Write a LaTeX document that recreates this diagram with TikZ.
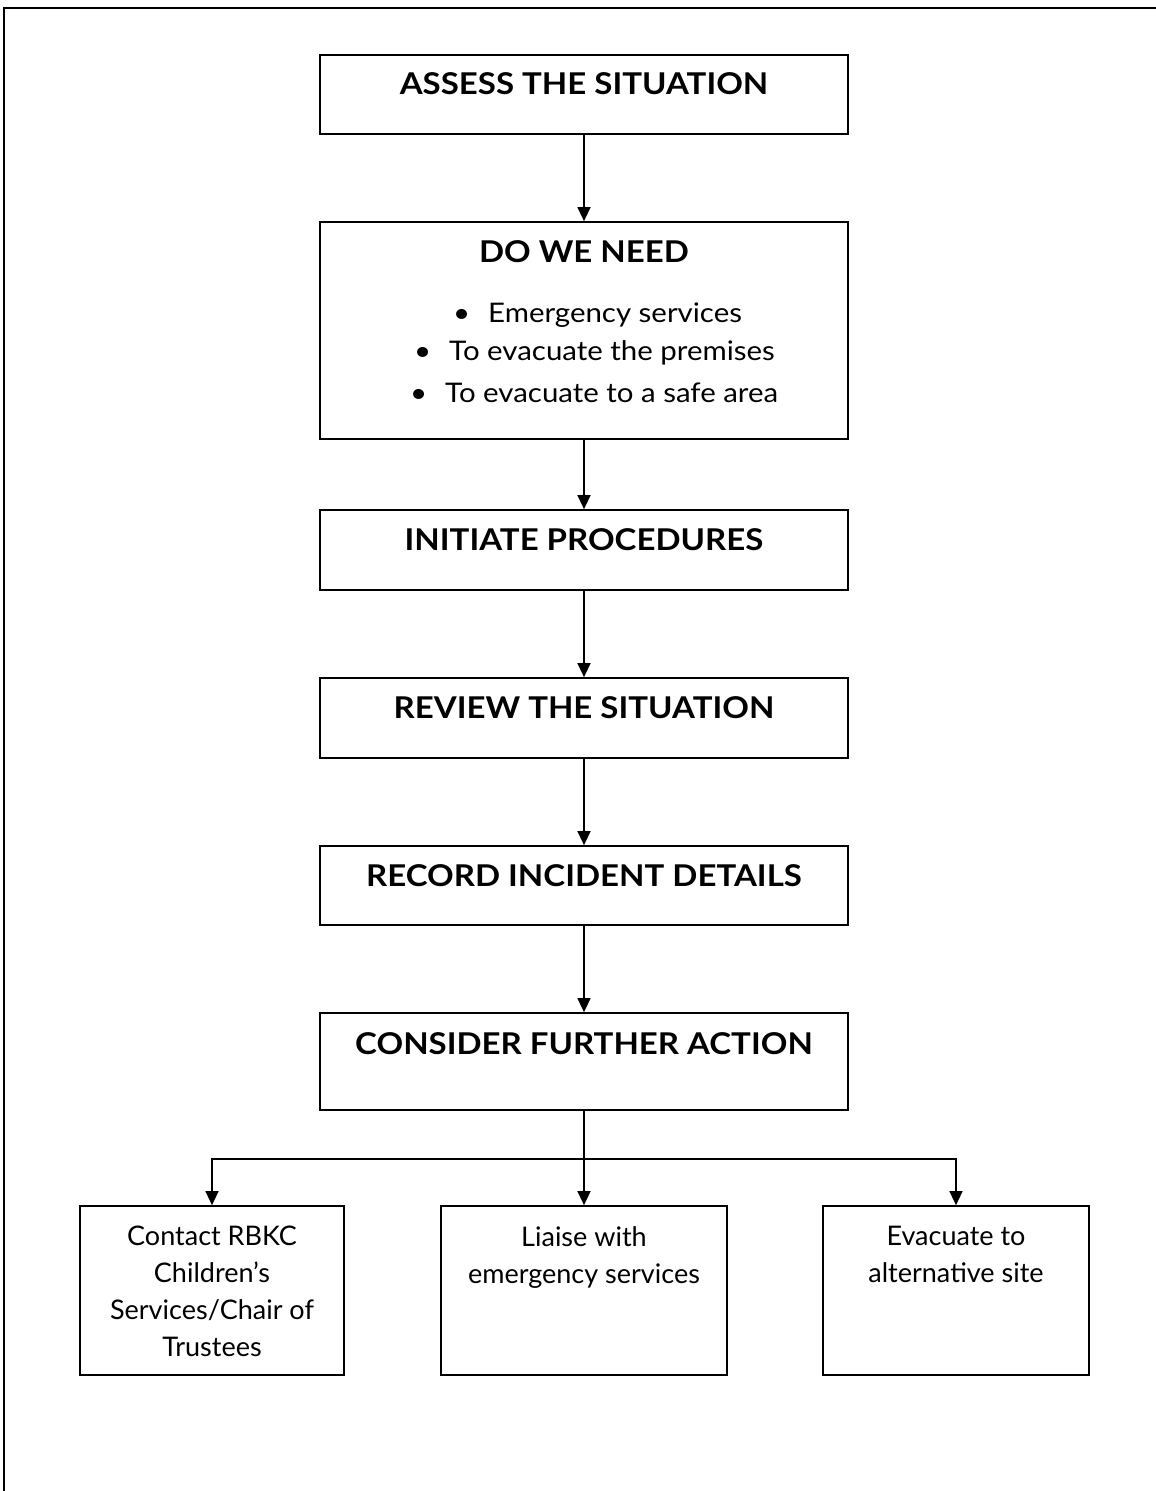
\documentclass[tikz,border=0pt]{standalone}
\usepackage{fontspec}
\setmainfont{Lato}
\usetikzlibrary{arrows.meta}
\tikzset{
  box/.style={draw, line width=1.7pt, inner sep=0pt, rectangle},
  ttl/.style={font=\fontsize{30}{34}\selectfont\bfseries\addfontfeature{FakeStretch=1.1}, inner sep=0pt},
  bul/.style={font=\fontsize{27}{37}\selectfont\addfontfeature{FakeStretch=1.09}, inner sep=0pt, anchor=west},
  body/.style={font=\fontsize{27}{37}\selectfont, inner sep=0pt, align=center},
  conn/.style={line width=1.3pt, -{Triangle[length=14pt,width=13pt]}},
  plain/.style={line width=1.3pt}
}
\newcommand{\bulitem}[1]{\makebox[35pt][l]{\textbullet}#1}
\begin{document}
\begin{tikzpicture}[x=1pt,y=-1pt]
\useasboundingbox (0,0) rectangle (1156,1491);
% frame
\draw[line width=1.3pt] (4,1491) -- (4,8) -- (1156,8);
% boxes
\node[box, minimum width=528pt, minimum height=79pt] (b1) at (584,94.5) {};
\node[box, minimum width=528pt, minimum height=217pt] (b2) at (584,330.5) {};
\node[box, minimum width=528pt, minimum height=80pt] (b3) at (584,550) {};
\node[box, minimum width=528pt, minimum height=80pt] (b4) at (584,718) {};
\node[box, minimum width=528pt, minimum height=79pt] (b5) at (584,885.5) {};
\node[box, minimum width=528pt, minimum height=97pt] (b6) at (584,1061.5) {};
\node[box, minimum width=264pt, minimum height=169pt] (ba) at (212,1290.5) {};
\node[box, minimum width=286pt, minimum height=169pt] (bb) at (584,1290.5) {};
\node[box, minimum width=266pt, minimum height=169pt] (bc) at (956,1290.5) {};
% texts
\node[ttl] (t1) at (584,84) {ASSESS THE SITUATION};
\node[ttl] (t2) at (584,252) {DO WE NEED};
\node[bul] (l1) at (453,315) {\bulitem{Emergency services}};
\node[bul] (l2) at (414,353) {\bulitem{To evacuate the premises}};
\node[bul] (l3) at (410,393) {\bulitem{To evacuate to a safe area}};
\node[ttl] (t3) at (584,540) {INITIATE PROCEDURES};
\node[ttl] (t4) at (584,708) {REVIEW THE SITUATION};
\node[ttl] (t5) at (584,876) {RECORD INCIDENT DETAILS};
\node[ttl] (t6) at (584,1044) {CONSIDER FURTHER ACTION};
\node[body, anchor=north] (ta) at (212,1226) {Contact RBKC\\Children’s\\Services/Chair of\\Trustees};
\node[body, anchor=north] (tb) at (584,1226) {Liaise with\\emergency services};
\node[body, anchor=north] (tc) at (956,1226) {Evacuate to\\alternative site};
% connectors
\draw[conn] (b1.south) -- (b2.north);
\draw[conn] (b2.south) -- (b3.north);
\draw[conn] (b3.south) -- (b4.north);
\draw[conn] (b4.south) -- (b5.north);
\draw[conn] (b5.south) -- (b6.north);
\coordinate (fan) at (584,1159);
\draw[plain] (b6.south) -- (fan);
\draw[conn] (fan) -| (ba.north);
\draw[conn] (fan) -- (bb.north);
\draw[conn] (fan) -| (bc.north);
\end{tikzpicture}
\end{document}
